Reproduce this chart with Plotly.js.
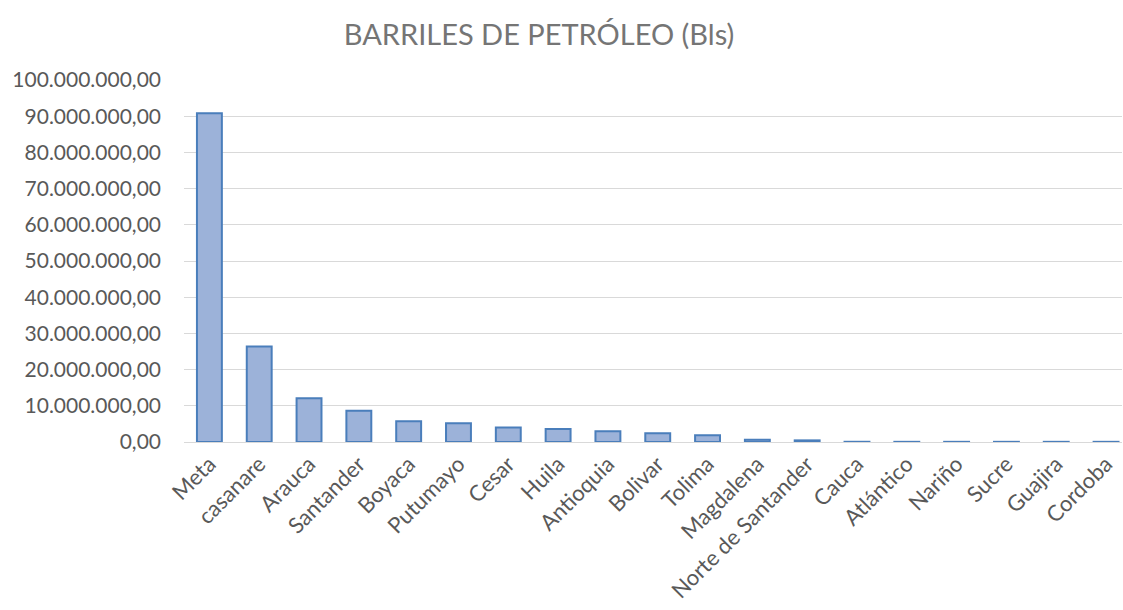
<!DOCTYPE html>
<html>
<head>
<meta charset="utf-8">
<script src="https://cdn.plot.ly/plotly-3.0.1.min.js"></script>
<style>html,body{margin:0;padding:0;background:#fff;overflow:hidden}#chart{width:1123px;height:610px}</style>
</head>
<body>
<div id="chart"></div>
<script>
const categories = ["Meta","casanare","Arauca","Santander","Boyaca","Putumayo","Cesar","Huila","Antioquia","Bolivar","Tolima","Magdalena","Norte de Santander","Cauca","Atlántico","Nariño","Sucre","Guajira","Cordoba"];
const barrels = [90800000,26400000,12100000,8600000,5700000,5200000,4000000,3600000,3000000,2400000,1850000,650000,450000,60000,50000,50000,50000,50000,50000];
const tickValues = [0,10000000,20000000,30000000,40000000,50000000,60000000,70000000,80000000,90000000,100000000];

const trace = {
  type: "bar",
  x: categories,
  y: barrels,
  width: 0.5,
  marker: {color: "#9cb2d9", line: {color: "#4a7ebb", width: 2}},
  hoverinfo: "x+y"
};
const layout = {
  width: 1123, height: 610,
  margin: {l: 184, r: 1, t: 80, b: 168},
  paper_bgcolor: "#fff", plot_bgcolor: "#fff",
  separators: ",.",
  font: {family: "Lato, 'Open Sans', sans-serif", color: "#595959"},
  title: {text: "BARRILES DE PETRÓLEO (Bls)", font: {size: 29, color: "#757575"}, x: 0.48, xref: "container", xanchor: "center", y: 0.943, yref: "container", yanchor: "middle"},
  xaxis: {type: "category", range: [-0.51, 18.32], tickangle: -45, tickfont: {size: 22, color: "#595959"}, showgrid: false, showline: false, ticks: "", automargin: false, ticklabelstandoff: 4},
  yaxis: {range: [0, 100000000], tickvals: tickValues, tickformat: ",.2f", tickfont: {size: 21, color: "#595959"}, showgrid: true, gridcolor: "#d9d9d9", gridwidth: 1, zeroline: true, zerolinecolor: "#d9d9d9", zerolinewidth: 1, showline: false, ticks: "", ticklen: 0, automargin: false, ticklabelstandoff: 22},
  showlegend: false,
  bargap: 0.5
};
Plotly.newPlot("chart", [trace], layout, {displayModeBar: false, staticPlot: true});
</script>
</body>
</html>
